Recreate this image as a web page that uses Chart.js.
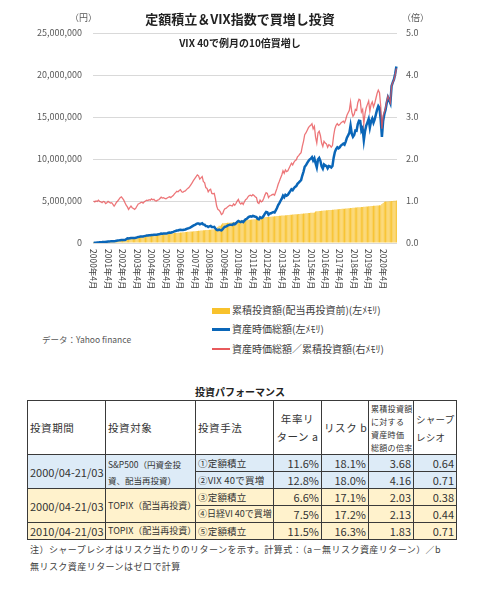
<!DOCTYPE html>
<html lang="ja">
<head>
<meta charset="utf-8">
<script src="https://cdn.jsdelivr.net/npm/chart.js@4.4.1/dist/chart.umd.min.js"></script>
<style>
  body { margin: 0; width: 480px; height: 593px; background: #fff; position: relative; overflow: hidden;
         font-family: "Noto Sans CJK JP", "Noto Sans", sans-serif; color: #333; }
  .abs { position: absolute; white-space: nowrap; }
  #chartBox { position: absolute; left: 0; top: 0; width: 480px; height: 300px; }
  .title { font-weight: bold; color: #222; }
  .unit { font-size: 9px; color: #595959; }
  .leg { font-size: 10px; color: #404040; }
  table { position: absolute; left: 27px; top: 400px; width: 429px; border-collapse: collapse; table-layout: fixed; }
  td { border: 1px solid #3a3a3a; padding: 0 2px; font-size: 10.5px; color: #333; overflow: hidden; white-space: nowrap; }
  tr.h td { height: 53px; letter-spacing: 0.6px; }
  tr.r td { height: 16px; line-height: 16px; }
  .blue td { background: #ddebf7; }
  .yel td { background: #fff2cc; }
  .num { text-align: right; font-size: 11px; }
  .how { font-size: 9.5px; letter-spacing: 0.2px; }
  .note { font-size: 9px; color: #404040; letter-spacing: 0.45px; }
</style>
</head>
<body>
<div id="chartBox"><canvas id="chart" width="480" height="300"></canvas></div>

<div class="abs title" style="left:0;width:480px;text-align:center;top:9px;font-size:13px;">定額積立＆VIX指数で買増し投資</div>
<div class="abs title" style="left:0;width:480px;text-align:center;top:35px;font-size:10px;">VIX 40で例月の10倍買増し</div>
<div class="abs unit" style="left:70px;top:11px;">（円）</div>
<div class="abs unit" style="left:402px;top:11px;">（倍）</div>

<div class="abs" style="left:212px;top:308px;width:18px;height:6px;background:#f8c22c;"></div>
<div class="abs leg" style="left:232px;top:302px;">累積投資額(配当再投資前)(左ﾒﾓﾘ)</div>
<div class="abs" style="left:212px;top:328px;width:18px;height:2.5px;background:#0a66b8;"></div>
<div class="abs leg" style="left:232px;top:321px;">資産時価総額(左ﾒﾓﾘ)</div>
<div class="abs" style="left:212px;top:348px;width:18px;height:1.5px;background:#e85a5c;"></div>
<div class="abs leg" style="left:232px;top:341px;">資産時価総額／累積投資額(右ﾒﾓﾘ)</div>
<div class="abs" style="left:42px;top:333px;font-size:8.5px;color:#595959;">データ：Yahoo finance</div>

<div class="abs title" style="left:0;width:480px;text-align:center;top:384px;font-size:10px;">投資パフォーマンス</div>

<table>
  <colgroup>
    <col style="width:78px"><col style="width:90px"><col style="width:78px"><col style="width:48px">
    <col style="width:47px"><col style="width:45px"><col style="width:43px">
  </colgroup>
  <tr class="h">
    <td>投資期間</td>
    <td>投資対象</td>
    <td>投資手法</td>
    <td style="text-align:center;line-height:18px;">年率リ<br>ターン a</td>
    <td style="text-align:center;">リスク b</td>
    <td style="font-size:8px;line-height:13px;letter-spacing:0.3px;">累積投資額<br>に対する<br>資産時価<br>総額の倍率</td>
    <td style="line-height:18px;font-size:9.5px;letter-spacing:0.3px;">シャープ<br>レシオ</td>
  </tr>
  <tr class="r blue">
    <td rowspan="2" style="font-size:11px;">2000/04-21/03</td>
    <td rowspan="2" style="font-size:8.5px;line-height:16px;">S&amp;P500（円資金投<br>資、配当再投資）</td>
    <td class="how">①定額積立</td>
    <td class="num">11.6%</td><td class="num">18.1%</td><td class="num">3.68</td><td class="num">0.64</td>
  </tr>
  <tr class="r blue">
    <td class="how">②VIX 40で買増</td>
    <td class="num">12.8%</td><td class="num">18.0%</td><td class="num">4.16</td><td class="num">0.71</td>
  </tr>
  <tr class="r yel">
    <td rowspan="2" style="font-size:11px;">2000/04-21/03</td>
    <td rowspan="2" style="font-size:9px;">TOPIX（配当再投資）</td>
    <td class="how">③定額積立</td>
    <td class="num">6.6%</td><td class="num">17.1%</td><td class="num">2.03</td><td class="num">0.38</td>
  </tr>
  <tr class="r yel">
    <td class="how" style="font-size:9px;letter-spacing:0;">④日経VI 40で買増</td>
    <td class="num">7.5%</td><td class="num">17.2%</td><td class="num">2.13</td><td class="num">0.44</td>
  </tr>
  <tr class="r yel">
    <td style="font-size:11px;">2010/04-21/03</td>
    <td style="font-size:9px;">TOPIX（配当再投資）</td>
    <td class="how">⑤定額積立</td>
    <td class="num">11.5%</td><td class="num">16.3%</td><td class="num">1.83</td><td class="num">0.71</td>
  </tr>
</table>

<div class="abs note" style="left:30px;top:543px;">注）シャープレシオはリスク当たりのリターンを示す。計算式：（a－無リスク資産リターン）／b</div>
<div class="abs note" style="left:30px;top:560px;">無リスク資産リターンはゼロで計算</div>

<script>
// x-axis tick labels (every April)
const tickLabels = ['2000年4月', '2001年4月', '2002年4月', '2003年4月', '2004年4月', '2005年4月', '2006年4月',
    '2007年4月', '2008年4月', '2009年4月', '2010年4月', '2011年4月', '2012年4月', '2013年4月', '2014年4月',
    '2015年4月', '2016年4月', '2017年4月', '2018年4月', '2019年4月', '2020年4月'];

// monthly categories, 2000/4 .. 2021/3
const months = [];
for (let y = 2000; y <= 2020; y++) {
    for (let m = 0; m < 12; m++) {
        const mm = (m + 3) % 12 + 1;
        months.push(`${m < 9 ? y : y + 1}年${mm}月`);
    }
}

// cumulative invested amount (万円), one row per Apr..Mar year
const invested = [
    1.4, 2.7, 4.1, 5.5, 6.9, 8.2, 9.6, 11.0, 12.3, 13.7, 15.1, 16.4,
    17.8, 19.2, 20.6, 21.9, 23.3, 24.7, 26.0, 27.4, 28.8, 30.1, 31.5, 32.9,
    34.3, 35.6, 37.0, 50.7, 64.4, 65.8, 67.1, 68.5, 69.9, 71.2, 72.6, 74.0,
    75.4, 76.7, 78.1, 79.5, 80.8, 82.2, 83.6, 84.9, 86.3, 87.7, 89.0, 90.4,
    91.8, 93.1, 94.5, 95.9, 97.3, 98.6, 100.0, 101.4, 102.7, 104.1, 105.5, 106.8,
    108.2, 109.6, 110.9, 112.3, 113.7, 115.0, 116.4, 117.8, 119.1, 120.5, 121.9, 123.2,
    124.6, 126.0, 127.3, 128.7, 130.1, 131.4, 132.8, 134.2, 135.6, 136.9, 138.3, 139.7,
    141.0, 142.4, 143.8, 145.1, 146.5, 147.9, 149.2, 150.6, 152.0, 153.3, 154.7, 156.1,
    157.5, 158.8, 160.2, 161.6, 163.0, 164.3, 178.0, 191.7, 205.4, 206.8, 220.5, 234.2,
    235.6, 237.0, 238.3, 239.7, 241.1, 242.4, 243.8, 245.2, 246.5, 247.9, 249.3, 250.6,
    252.0, 265.7, 267.1, 268.4, 269.8, 271.2, 272.5, 273.9, 275.3, 276.6, 278.0, 279.4,
    280.7, 282.1, 283.5, 284.8, 298.5, 299.9, 301.3, 302.6, 304.0, 305.4, 306.7, 308.1,
    309.5, 310.8, 312.2, 313.6, 314.9, 316.3, 317.7, 319.0, 320.4, 321.8, 323.1, 324.5,
    325.9, 327.2, 328.6, 330.0, 331.3, 332.7, 334.1, 335.4, 336.8, 338.2, 339.5, 340.9,
    342.3, 343.6, 345.0, 346.4, 347.7, 349.1, 350.5, 351.8, 353.2, 354.6, 355.9, 357.3,
    358.7, 360.0, 361.4, 362.8, 376.4, 377.8, 379.2, 380.5, 381.9, 383.3, 384.6, 386.0,
    387.4, 388.7, 390.1, 391.5, 392.8, 394.2, 395.6, 396.9, 398.3, 399.7, 401.0, 402.4,
    403.8, 405.1, 406.5, 407.9, 409.2, 410.6, 412.0, 413.3, 414.7, 416.1, 417.4, 418.8,
    420.2, 421.5, 422.9, 424.3, 425.6, 427.0, 428.4, 429.7, 431.1, 432.5, 433.8, 435.2,
    436.6, 437.9, 439.3, 440.7, 442.0, 443.4, 444.8, 446.1, 447.5, 448.9, 450.2, 463.9,
    477.6, 491.3, 492.7, 494.0, 495.4, 496.8, 498.1, 499.5, 500.9, 502.2, 503.6, 505.0
];

// total market value of holdings (万円)
const assetValue = [
    1.4, 2.6, 4.1, 5.4, 7.0, 8.1, 9.4, 10.6, 12.2, 13.4, 14.2, 15.7,
    17.6, 18.6, 19.6, 21.0, 21.4, 21.7, 23.9, 26.6, 28.8, 31.3, 34.0, 36.2,
    36.4, 36.3, 35.5, 45.6, 55.4, 52.6, 56.4, 60.3, 58.7, 58.4, 58.1, 61.4,
    66.4, 71.3, 73.4, 76.3, 78.4, 78.1, 81.9, 84.9, 88.0, 88.6, 91.7, 92.2,
    96, 96, 98, 97, 97, 101, 103, 107, 112, 111, 114, 113,
    114, 117, 121, 124, 123, 128, 132, 138, 143, 148, 149, 154,
    158, 154, 154, 158, 161, 167, 173, 177, 184, 192, 201, 210,
    217, 225, 233, 232, 223, 229, 236, 220, 219, 202, 201, 190,
    199, 203, 189, 189, 192, 173, 157, 153, 160, 153, 150, 164,
    184, 194, 198, 206, 212, 218, 217, 216, 229, 223, 234, 251,
    262, 255, 248, 258, 248, 266, 281, 288, 303, 313, 317, 313,
    323, 319, 312, 308, 287, 282, 307, 297, 304, 324, 350, 370,
    365, 336, 350, 354, 362, 367, 362, 389, 417, 451, 475, 503,
    528, 563, 546, 574, 563, 572, 595, 617, 640, 629, 652, 668,
    678, 704, 718, 734, 748, 803, 848, 908, 925, 950, 975, 993,
    1004, 1022, 983, 1009, 949, 899, 994, 1012, 978, 912, 885, 934,
    922, 917, 889, 916, 911, 899, 918, 1016, 1083, 1119, 1139, 1127,
    1139, 1159, 1171, 1183, 1170, 1207, 1253, 1281, 1311, 1398, 1302, 1265,
    1286, 1340, 1336, 1417, 1456, 1452, 1337, 1366, 1224, 1332, 1397, 1436,
    1476, 1375, 1450, 1481, 1432, 1472, 1530, 1588, 1629, 1607, 1468, 1262,
    1452, 1533, 1587, 1670, 1734, 1699, 1664, 1868, 1913, 1949, 2014, 2101
];

// market value / invested (倍, right axis)
const ratio = [
    1.00, 0.98, 1.00, 0.99, 1.02, 0.99, 0.98, 0.96, 0.99, 0.98, 0.94, 0.96,
    0.99, 0.97, 0.95, 0.96, 0.92, 0.88, 0.92, 0.97, 1.00, 1.04, 1.08, 1.10,
    1.06, 1.02, 0.96, 0.90, 0.86, 0.80, 0.84, 0.88, 0.84, 0.82, 0.80, 0.83,
    0.88, 0.93, 0.94, 0.96, 0.97, 0.95, 0.98, 1.00, 1.02, 1.01, 1.03, 1.02,
    1.05, 1.03, 1.04, 1.01, 1.00, 1.02, 1.03, 1.06, 1.09, 1.07, 1.08, 1.06,
    1.05, 1.07, 1.09, 1.10, 1.08, 1.11, 1.13, 1.17, 1.20, 1.23, 1.22, 1.25,
    1.27, 1.22, 1.21, 1.23, 1.24, 1.27, 1.30, 1.32, 1.36, 1.40, 1.45, 1.50,
    1.54, 1.58, 1.62, 1.60, 1.52, 1.55, 1.58, 1.46, 1.44, 1.32, 1.30, 1.22,
    1.26, 1.28, 1.18, 1.17, 1.18, 1.05, 0.88, 0.80, 0.78, 0.74, 0.68, 0.70,
    0.78, 0.82, 0.83, 0.86, 0.88, 0.90, 0.89, 0.88, 0.93, 0.90, 0.94, 1.00,
    1.04, 0.96, 0.93, 0.96, 0.92, 0.98, 1.03, 1.05, 1.10, 1.13, 1.14, 1.12,
    1.15, 1.13, 1.10, 1.08, 0.96, 0.94, 1.02, 0.98, 1.00, 1.06, 1.14, 1.20,
    1.18, 1.08, 1.12, 1.13, 1.15, 1.16, 1.14, 1.22, 1.30, 1.40, 1.47, 1.55,
    1.62, 1.72, 1.66, 1.74, 1.70, 1.72, 1.78, 1.84, 1.90, 1.86, 1.92, 1.96,
    1.98, 2.05, 2.08, 2.12, 2.15, 2.30, 2.42, 2.58, 2.62, 2.68, 2.74, 2.78,
    2.80, 2.84, 2.72, 2.78, 2.52, 2.38, 2.62, 2.66, 2.56, 2.38, 2.30, 2.42,
    2.38, 2.36, 2.28, 2.34, 2.32, 2.28, 2.32, 2.56, 2.72, 2.80, 2.84, 2.80,
    2.82, 2.86, 2.88, 2.90, 2.86, 2.94, 3.04, 3.10, 3.16, 3.36, 3.12, 3.02,
    3.06, 3.18, 3.16, 3.34, 3.42, 3.40, 3.12, 3.18, 2.84, 3.08, 3.22, 3.30,
    3.38, 3.14, 3.30, 3.36, 3.24, 3.32, 3.44, 3.56, 3.64, 3.58, 3.26, 2.72,
    3.04, 3.12, 3.22, 3.38, 3.50, 3.42, 3.34, 3.74, 3.82, 3.88, 4.00, 4.16
];

const MAN = 10000; // 万円 -> 円

// draws the April labels rotated clockwise, like the reference
const monthTicks = {
    id: 'monthTicks',
    afterDraw(chart) {
        const ctx = chart.ctx;
        const xs = chart.scales.x;
        ctx.save();
        ctx.font = '8.5px "Noto Sans CJK JP"';
        ctx.fillStyle = '#404040';
        ctx.textAlign = 'left';
        ctx.textBaseline = 'middle';
        tickLabels.forEach(lab => {
            const x = xs.getPixelForValue(months.indexOf(lab));
            ctx.save();
            ctx.translate(x, xs.top + 6);
            ctx.rotate(Math.PI / 2);
            ctx.fillText(lab, 0, 0);
            ctx.restore();
        });
        ctx.restore();
    }
};

new Chart(document.getElementById('chart'), {
    type: 'bar',
    data: {
        labels: months,
        datasets: [
            {
                type: 'line',
                label: '資産時価総額／累積投資額(右ﾒﾓﾘ)',
                data: ratio,
                yAxisID: 'y1',
                borderColor: 'rgba(232, 84, 88, 0.8)',
                borderWidth: 1.3,
                pointRadius: 0,
                tension: 0,
                order: 1
            },
            {
                type: 'line',
                label: '資産時価総額(左ﾒﾓﾘ)',
                data: assetValue.map(v => v * MAN),
                yAxisID: 'y',
                borderColor: '#0a66b8',
                borderWidth: 2.5,
                pointRadius: 0,
                tension: 0,
                order: 2
            },
            {
                label: '累積投資額(配当再投資前)(左ﾒﾓﾘ)',
                data: invested.map(v => v * MAN),
                yAxisID: 'y',
                backgroundColor: '#f8c22c',
                categoryPercentage: 1.0,
                barPercentage: 0.8,
                order: 3
            }
        ]
    },
    options: {
        responsive: false,
        animation: false,
        devicePixelRatio: 1,
        layout: { padding: { top: 33, left: 0, right: 0, bottom: 0 } },
        plugins: {
            legend: { display: false },
            tooltip: { enabled: false }
        },
        scales: {
            x: {
                grid: { display: false },
                border: { display: false },
                ticks: { display: false },
                afterFit(scale) { scale.height = 57; }
            },
            y: {
                position: 'left',
                min: 0,
                max: 25000000,
                ticks: {
                    stepSize: 5000000,
                    padding: 11,
                    color: '#595959',
                    font: { family: 'Noto Sans CJK JP', size: 9 },
                    callback: v => v.toLocaleString('en-US')
                },
                grid: { color: '#d9d9d9', drawTicks: false },
                border: { display: false },
                afterFit(scale) { scale.width = 93; }
            },
            y1: {
                position: 'right',
                min: 0,
                max: 5,
                ticks: {
                    stepSize: 1,
                    padding: 9,
                    color: '#595959',
                    font: { family: 'Noto Sans CJK JP', size: 9 },
                    callback: v => v.toFixed(1)
                },
                grid: { display: false, drawTicks: false },
                border: { display: false },
                afterFit(scale) { scale.width = 83; }
            }
        }
    },
    plugins: [monthTicks]
});
</script>
</body>
</html>
